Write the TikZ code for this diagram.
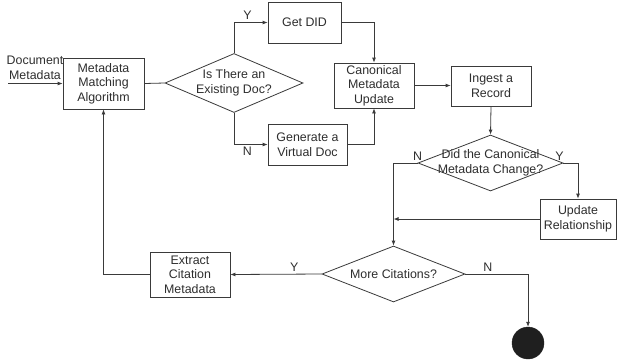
\documentclass[tikz,border=0pt]{standalone}
\usepackage{fontspec}
\setmainfont{Liberation Sans}
\usepackage{tikz}
\usepackage{xcolor}
\usetikzlibrary{shapes.geometric, arrows.meta, positioning, calc}
\definecolor{flowLine}{HTML}{3A3A3A}
\definecolor{flowText}{HTML}{2E2E2E}
\tikzstyle{process} = [rectangle, inner sep=0pt, align=center, text centered, draw=flowLine, line width=0.8pt, fill=white, text=flowText]
\tikzstyle{decision} = [diamond, inner sep=0pt, draw=flowLine, line width=0.8pt, fill=white]
\tikzstyle{arrow} = [draw=flowLine, line width=0.8pt, -{Latex[length=5pt,width=4pt]}]
\tikzstyle{line} = [draw=flowLine, line width=0.8pt]
\tikzstyle{yn} = [text=flowText, inner sep=2.5pt]

\begin{document}
\begin{tikzpicture}[x=1pt, y=-1pt, font=\fontsize{12.4}{14.5}\selectfont]
\useasboundingbox (0,0) rectangle (617,360);

% Nodes
\coordinate (docin) at (8,83.5);
\node (doctext) [text=flowText, align=center, inner sep=0pt] at (35,68) {Document\\Metadata};
\node (match) [process, minimum width=81pt, minimum height=51pt] at (103.5,83.5) {Metadata\\Matching\\Algorithm};
\node (exist) [decision, minimum width=138pt, minimum height=59pt,
  label={[align=center, text=flowText]center:Is There an\\Existing Doc?}] at (234,83) {};
\node (getdid) [process, minimum width=73pt, minimum height=41pt] at (304.5,22.5) {Get DID};
\node (virtual) [process, minimum width=79pt, minimum height=41pt] at (307.5,144.5) {Generate a\\Virtual Doc};
\node (canon) [process, minimum width=80pt, minimum height=45pt] at (374,85.5) {Canonical\\Metadata\\Update};
\node (ingest) [process, minimum width=80pt, minimum height=40pt] at (491,86) {Ingest a\\Record};
\node (changed) [decision, minimum width=145pt, minimum height=56pt,
  label={[align=center, text=flowText]center:Did the Canonical\\Metadata Change?}] at (490.5,163) {};
\node (relation) [process, minimum width=76pt, minimum height=40pt] at (578,219) {Update\\Relationship};
\node (morecit) [decision, minimum width=143pt, minimum height=56pt,
  label={[text=flowText]center:More Citations?}] at (393.5,274) {};
\node (extract) [process, minimum width=80pt, minimum height=45pt] at (190,274.5) {Extract\\Citation\\Metadata};
\node (stop) [circle, fill=black!88, draw=black!88, minimum size=32pt, inner sep=0pt] at (528,343) {};

% Links
\draw [arrow] (docin) -- (match.west);
\draw [line] (match.east) -- (exist.west);
\draw [arrow] (exist.north) |- node[yn, pos=0.7, above] {Y} (getdid.west);
\draw [arrow] (exist.south) |- node[yn, pos=0.7, below] {N} (virtual.west);
\draw [arrow] (getdid.east) -| (canon.north);
\draw [arrow] (virtual.east) -| (canon.south);
\draw [arrow] (canon.east) -- (canon.east -| ingest.west);
\draw [arrow] (ingest.south) -- (changed.north);
\draw [arrow] (changed.west) -| node[yn, pos=0, above] {N} (morecit.north);
\draw [arrow] (changed.east) -| node[yn, pos=0, above, xshift=-4pt] {Y} (relation.north);
\draw [arrow] (relation.west) -- (relation.west -| morecit.north);
\draw [arrow] (morecit.west) -- node[yn, pos=0.3, above] {Y} (extract.east);
\draw [arrow] (morecit.east) -| node[yn, pos=0.18, above] {N} (stop.north);
\draw [arrow] (extract.west) -| (match.south);

\end{tikzpicture}
\end{document}
